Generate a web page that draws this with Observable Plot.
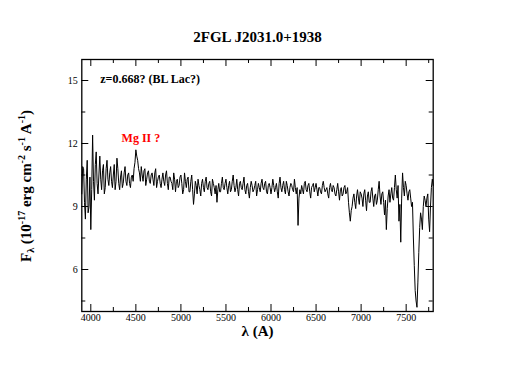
<!DOCTYPE html>
<html><head><meta charset="utf-8">
<script src="https://cdn.jsdelivr.net/npm/d3@7"></script>
<script src="https://cdn.jsdelivr.net/npm/@observablehq/plot@0.6"></script>
<style>body{margin:0;background:#fff}</style>
</head><body><div id="chart"></div>
<script>
const title = "2FGL J2031.0+1938";
const xLabel = "λ (A)";
// samples on the 20 Å grid
const wave = [
3900,3920,3940,3960,3980,4000,4020,4040,4060,4080,
4100,4120,4140,4160,4180,4200,4220,4240,4260,4280,4300,4320,4340,4360,4380,4400,4420,4440,4460,4480,
4500,4520,4540,4560,4580,4600,4620,4640,4660,4680,4700,4720,4740,4760,4780,4800,4820,4840,4860,4880,4900,4920,4940,4960,4980,
5000,5020,5040,5060,5080,5100,5120,5140,5160,5180,5200,5220,5240,5260,5280,5300,5320,5340,5360,5380,5400,5420,5440,5460,5480,
5500,5520,5540,5560,5580,5600,5620,5640,5660,5680,5700,5720,5740,5760,5780,5800,5820,5840,5860,5880,5900,5920,5940,5960,5980,
6000,6020,6040,6060,6080,6100,6120,6140,6160,6180,6200,6220,6240,6260,6280,6300,6320,6340,6360,6380,6400,6420,6440,6460,6480,
6500,6520,6540,6560,6580,6600,6620,6640,6660,6680,6700,6720,6740,6760,6780,6800,6820,6840,6860,6880,6900,6920,6940,6960,6980,
7000,7020,7040,7060,7080,7100,7120,7140,7160,7180,7200,7220,7240,7260,7280,7300,7320,7340,7360,7380,7400,7420,7440,7460,7480,
7500,7520,7540,7560,7580,7600,7620,7640,7660,7680,7700,7720,7740,7760,7780,7800];
const flux = [
9.6,10.8,8.4,11.2,9.0,7.9,12.4,9.3,11.6,9.6,
11.4,9.8,11.0,9.9,11.2,10.0,10.9,9.9,11.0,10.2,10.8,9.8,10.7,10.1,10.9,10.0,10.6,9.9,10.5,10.8,
11.7,11.2,10.6,10.9,10.2,10.8,10.3,10.7,10.1,10.6,10.0,10.8,10.2,10.5,9.9,10.6,10.0,10.7,9.8,10.4,10.1,10.6,9.7,10.3,10.0,
10.5,9.6,10.6,9.9,10.4,9.7,10.5,9.1,10.2,9.6,10.0,9.5,10.3,9.7,10.4,9.8,10.2,9.5,10.1,9.6,9.2,10.1,9.7,10.4,9.8,
10.3,9.6,10.2,9.8,10.5,9.7,10.3,9.5,10.2,9.8,10.4,9.6,10.1,9.4,10.2,9.7,10.0,9.5,10.1,9.7,10.3,9.8,10.2,9.6,10.1,
9.6,10.3,9.7,10.1,9.4,10.4,9.7,10.2,9.6,10.0,9.5,10.1,9.8,10.3,9.6,8.1,9.8,10.0,9.6,10.2,9.7,10.1,9.4,10.0,9.7,
10.1,9.5,9.9,9.6,10.2,9.7,9.9,9.4,10.1,9.7,9.9,9.5,10.1,9.3,9.9,9.6,10.0,9.7,9.2,8.3,9.0,9.6,8.9,9.8,9.1,
9.6,9.0,9.8,8.8,9.7,9.2,9.9,9.0,9.6,9.3,10.2,9.1,9.7,8.6,7.9,9.5,9.2,9.9,9.3,10.5,9.4,8.3,7.3,10.6,9.5,
10.0,9.3,9.8,9.0,7.5,5.0,4.2,6.8,8.7,7.9,9.5,9.0,9.6,7.8,9.9,10.0];
// samples between them (10 Å offset)
const waveMid = [
3910,3930,3950,3970,3990,4010,4030,4050,4070,4090,
4110,4130,4150,4170,4190,4210,4230,4250,4270,4290,4310,4330,4350,4370,4390,4410,4430,4450,4470,4490,
4510,4530,4550,4570,4590,4610,4630,4650,4670,4690,4710,4730,4750,4770,4790,4810,4830,4850,4870,4890,4910,4930,4950,4970,4990,
5010,5030,5050,5070,5090,5110,5130,5150,5170,5190,5210,5230,5250,5270,5290,5310,5330,5350,5370,5390,5410,5430,5450,5470,5490,
5510,5530,5550,5570,5590,5610,5630,5650,5670,5690,5710,5730,5750,5770,5790,5810,5830,5850,5870,5890,5910,5930,5950,5970,5990,
6010,6030,6050,6070,6090,6110,6130,6150,6170,6190,6210,6230,6250,6270,6290,6310,6330,6350,6370,6390,6410,6430,6450,6470,6490,
6510,6530,6550,6570,6590,6610,6630,6650,6670,6690,6710,6730,6750,6770,6790,6810,6830,6850,6870,6890,6910,6930,6950,6970,6990,
7010,7030,7050,7070,7090,7110,7130,7150,7170,7190,7210,7230,7250,7270,7290,7310,7330,7350,7370,7390,7410,7430,7450,7470,7490,
7510,7530,7550,7570,7590,7610,7630,7650,7670,7690,7710,7730,7750,7770,7790];
const fluxMid = [
10.9,9.2,10.3,8.7,10.4,9.8,10.2,11.0,10.1,10.5,
10.3,10.7,9.6,10.8,10.3,10.6,10.2,10.5,9.8,11.3,10.1,10.4,9.9,10.6,10.2,10.5,10.1,10.4,10.2,11.1,
11.4,10.8,10.2,10.5,10.7,10.0,10.6,10.2,10.5,10.3,10.6,9.9,10.4,10.1,10.3,10.2,10.5,10.1,10.4,10.2,9.8,10.3,10.2,9.9,10.4,
10.1,9.8,10.2,10.3,9.7,10.2,9.8,9.6,10.0,10.3,9.8,10.1,9.9,10.2,9.9,10.1,9.7,10.3,9.9,10.0,9.8,9.7,10.1,9.9,10.1,
9.9,10.0,9.7,10.2,10.0,9.9,9.8,10.1,9.9,10.1,9.8,10.0,9.7,9.9,10.0,9.8,10.2,9.8,9.9,10.1,9.9,10.1,9.7,10.0,9.9,
9.9,10.0,9.9,9.7,10.1,9.9,10.0,9.8,10.2,9.7,9.9,10.0,9.7,9.9,9.9,9.4,9.6,9.8,10.1,9.8,10.0,9.7,9.9,10.1,9.9,
9.8,9.9,9.7,10.0,9.9,9.8,9.6,9.9,9.8,10.0,9.6,9.8,9.7,9.8,9.5,9.9,9.6,9.9,8.7,8.8,9.4,9.2,9.5,9.4,9.7,
9.4,9.6,9.3,9.5,9.2,9.7,9.4,9.5,9.1,9.8,9.5,9.6,9.2,9.3,8.9,9.8,9.6,9.4,9.9,9.8,10.0,9.1,9.4,9.9,10.2,
9.6,9.7,9.4,9.2,6.2,4.5,5.4,8.0,8.4,9.0,9.3,9.4,8.4,9.0,10.3];
const spectrum = wave.map((w, i) => ({wave: w, flux: flux[i]}))
  .concat(waveMid.map((w, i) => ({wave: w, flux: fluxMid[i]})))
  .sort((a, b) => a.wave - b.wave);
const xMajor = [4000,4500,5000,5500,6000,6500,7000,7500];
const xMinor = [4250,4750,5250,5750,6250,6750,7250,7750];
const yMajor = [6,9,12,15];
const yMinor = [4.5,7.5,10.5,13.5];

const W = 512, H = 371, mL = 81.3, mR = 79.3, mT = 59, mB = 60;
const fw = W - mL - mR, fh = H - mT - mB;
const serif = "Liberation Serif, Times New Roman, serif";

const plot = Plot.plot({
  width: W, height: H,
  marginLeft: mL, marginRight: mR, marginTop: mT, marginBottom: mB,
  style: {fontFamily: serif, fontSize: "10px", background: "white", color: "black"},
  x: {domain: [3900, 7800], label: null},
  y: {domain: [4, 16], label: null},
  marks: [
    Plot.line(spectrum, {x: "wave", y: "flux", stroke: "black", strokeWidth: 1}),
    Plot.frame({stroke: "black", strokeWidth: 1.3}),
    Plot.axisX(xMajor, {tickSize: 0, tickPadding: 2, fontSize: 10, tickFormat: d => String(d)}),
    Plot.axisY(yMajor, {tickSize: 0, tickPadding: 4, fontSize: 10, tickFormat: d => String(d)}),
    Plot.tickX(xMajor, {x: d => d, insetTop: fh - 7, stroke: "black"}),
    Plot.tickX(xMajor, {x: d => d, insetBottom: fh - 7, stroke: "black"}),
    Plot.tickX(xMinor, {x: d => d, insetTop: fh - 4, stroke: "black"}),
    Plot.tickX(xMinor, {x: d => d, insetBottom: fh - 4, stroke: "black"}),
    Plot.tickY(yMajor, {y: d => d, insetRight: fw - 7, stroke: "black"}),
    Plot.tickY(yMajor, {y: d => d, insetLeft: fw - 7, stroke: "black"}),
    Plot.tickY(yMinor, {y: d => d, insetRight: fw - 4, stroke: "black"}),
    Plot.tickY(yMinor, {y: d => d, insetLeft: fw - 4, stroke: "black"}),
    Plot.text([title], {text: d => d, frameAnchor: "top", dy: -28, fontSize: 15, fontWeight: "bold"}),
    Plot.text([xLabel], {text: d => d, frameAnchor: "bottom", dy: 24, fontSize: 15, fontWeight: "bold"}),
    Plot.text(["z=0.668? (BL Lac?)"], {text: d => d, x: 4105, y: 15.05, textAnchor: "start", fontSize: 12, fontWeight: "bold"}),
    Plot.text(["Mg II ?"], {text: d => d, x: 4556, y: 12.25, fontSize: 12, fontWeight: "bold", fill: "#ff0000"})
  ]
});

const svg = d3.select(plot);
const t = svg.append("text")
  .attr("transform", "translate(31,186) rotate(-90)")
  .attr("text-anchor", "middle")
  .attr("font-weight", "bold")
  .attr("font-size", 15)
  .attr("font-family", serif)
  .attr("fill", "black");
const parts = [
  ["F", 0, 15], ["λ", 3, 10], [" (10", -3, 15], ["-17", -6, 10], [" erg cm", 6, 15],
  ["-2", -6, 10], [" s", 6, 15], ["-1", -6, 10], [" A", 6, 15], ["-1", -6, 10], [")", 6, 15]
];
for (const [s, dy, fs] of parts) t.append("tspan").attr("dy", dy).attr("font-size", fs).text(s);

document.getElementById("chart").appendChild(plot);
</script>
</body></html>
